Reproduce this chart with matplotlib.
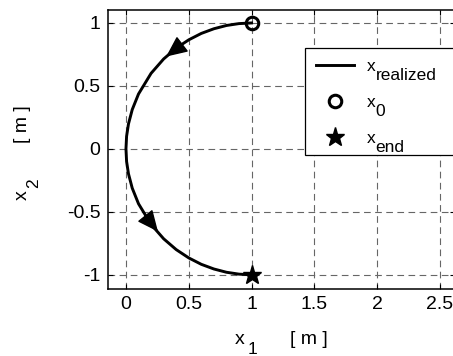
import matplotlib
matplotlib.use("Agg")
import matplotlib.pyplot as plt
from matplotlib.patches import Rectangle

plt.rcParams['font.family'] = ['Liberation Sans', 'DejaVu Sans']

# realized trajectory in the (x1, x2) plane
x1 = [1.0, 0.9, 0.8, 0.7, 0.6, 0.5, 0.4, 0.3, 0.2, 0.1, 0.05, 0.02, 0.005, 0.0,
      0.005, 0.02, 0.05, 0.1, 0.2, 0.3, 0.4, 0.5, 0.6, 0.7, 0.8, 0.9, 1.0]
x2 = [1.0, 0.995, 0.98, 0.954, 0.917, 0.866, 0.8, 0.714, 0.6, 0.436, 0.312, 0.198, 0.1, 0.0,
      -0.1, -0.198, -0.312, -0.436, -0.6, -0.714, -0.8, -0.866, -0.917, -0.954, -0.98, -0.995, -1.0]

start = (1.0, 1.0)
end = (1.0, -1.0)

# direction arrows along the path: (tail, tip)
arrows = [((0.43, 0.817), (0.32, 0.733)),
          ((0.15, -0.527), (0.255, -0.657))]

xticks = [0, 0.5, 1, 1.5, 2, 2.5]
xticklabels = ['0', '0.5', '1', '1.5', '2', '2.5']
yticks = [-1, -0.5, 0, 0.5, 1]
yticklabels = ['-1', '-0.5', '0', '0.5', '1']

legend_subs = ['realized', '0', 'end']

W, H = 453, 356


def px(x, y):
    # pixel position (from top-left) -> figure fraction
    return x / W, 1 - y / H


fig = plt.figure(figsize=(W / 100, H / 100), dpi=100)
ax = fig.add_axes([108 / W, 1 - 289 / H, (455 - 108) / W, 279 / H])

ax.grid(True, color='0.4', linestyle=(0, (6, 4)), linewidth=0.8)
ax.set_axisbelow(True)

line, = ax.plot(x1, x2, color='k', lw=2.1)
for tail, tip in arrows:
    ax.annotate('', xy=tip, xytext=tail,
                arrowprops=dict(arrowstyle='-|>,head_length=1.1,head_width=0.5',
                                color='k', lw=1, shrinkA=0, shrinkB=0,
                                mutation_scale=12))
p0, = ax.plot(*start, 'o', ms=9, mfc='none', mec='k', mew=2.2, zorder=3)
pe, = ax.plot(*end, '*', ms=14, color='k', zorder=3)

ax.set_xlim(-0.143, 2.62)
ax.set_ylim(-1.113, 1.103)
ax.set_xticks(xticks)
ax.set_xticklabels(xticklabels)
ax.set_yticks(yticks)
ax.set_yticklabels(yticklabels)
ax.tick_params(direction='in', top=True, right=True, labelsize=14, length=3.5, width=0.8)
ax.tick_params(axis='x', pad=5)
ax.tick_params(axis='y', pad=5.5)
for s in ax.spines.values():
    s.set_linewidth(1.1)

# axis labels with full-size subscripts
fs_lab = 14
fig.text(*px(235, 344), 'x', fontsize=fs_lab, va='baseline', ha='left')
fig.text(*px(247.5, 354), '1', fontsize=12.5, va='baseline', ha='left')
fig.text(*px(290, 344), '[ m ]', fontsize=fs_lab, va='baseline', ha='left')

fig.text(*px(27, 200), 'x', fontsize=fs_lab, rotation=90, rotation_mode='anchor',
         va='baseline', ha='left')
fig.text(*px(38, 187.5), '2', fontsize=12.5, rotation=90, rotation_mode='anchor',
         va='baseline', ha='left')
fig.text(*px(27, 143), '[ m ]', fontsize=fs_lab, rotation=90, rotation_mode='anchor',
         va='baseline', ha='left')

# legend: frameless, boxed by a white rectangle
fs_leg = 12.5
leg = ax.legend(handles=[line, p0, pe], labels=['x', 'x', 'x'], loc='upper left',
                bbox_to_anchor=px(306, 49), bbox_transform=fig.transFigure,
                fontsize=fs_leg, frameon=False, borderaxespad=0, borderpad=0.55,
                handlelength=2.2, handletextpad=0.75, labelspacing=1.2)
box = Rectangle(px(305, 155), 150 / W, (155 - 47.7) / H, transform=fig.transFigure,
                facecolor='white', edgecolor='k', lw=0.9, zorder=4.5, clip_on=False)
ax.add_patch(box)

for t, sub in zip(leg.get_texts(), legend_subs):
    ax.annotate(sub, xy=(1, 0), xycoords=t, xytext=(0, -6.5), textcoords='offset points',
                fontsize=fs_leg, ha='left', va='bottom', zorder=6, annotation_clip=False)

fig.savefig('out.png', dpi=100)
